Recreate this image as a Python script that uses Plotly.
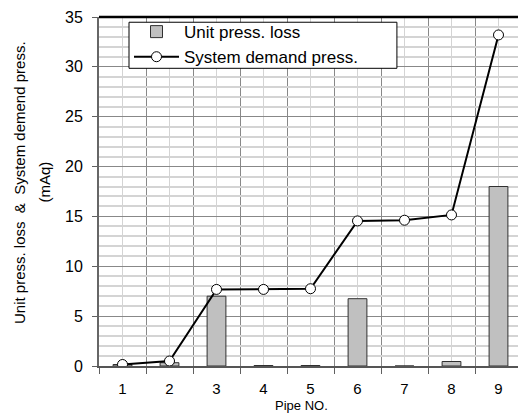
import plotly.graph_objects as go

pipes = [1, 2, 3, 4, 5, 6, 7, 8, 9]
pipe_labels = ["1", "2", "3", "4", "5", "6", "7", "8", "9"]
unit_loss = [0.15, 0.33, 7.0, 0.05, 0.05, 6.75, 0.0, 0.45, 18.0]
system_demand = [0.15, 0.5, 7.68, 7.68, 7.75, 14.55, 14.62, 15.15, 33.2]

FONT = "Arial, Liberation Sans, sans-serif"

fig = go.Figure()
fig.add_trace(go.Bar(
    x=pipes, y=unit_loss, name="Unit press. loss", width=0.4,
    marker=dict(color="#c0c0c0", line=dict(color="#303030", width=1)),
))
fig.add_trace(go.Scatter(
    x=pipes, y=system_demand, name="System demand press.", mode="lines+markers",
    line=dict(color="black", width=2),
    marker=dict(symbol="circle", size=10, color="white", line=dict(color="black", width=1)),
))

fig.update_layout(
    width=518, height=414,
    margin=dict(l=99, r=0, t=17, b=48),
    paper_bgcolor="white", plot_bgcolor="white",
    font=dict(family=FONT, size=14, color="black"),
    showlegend=True,
    legend=dict(
        x=0.0716, y=1.0084, xanchor="left", yanchor="top",
        bgcolor="rgba(0,0,0,0)", borderwidth=0,
        font=dict(family=FONT, size=17, color="black"),
        tracegroupgap=0, itemwidth=45,
    ),
    bargap=0.6,
)

fig.update_xaxes(
    range=[0.5, 9.415],
    tickmode="array", tickvals=pipes, ticktext=pipe_labels,
    ticks="", ticklabelstandoff=8,
    showgrid=True, gridcolor="#d4d4d4", gridwidth=1,
    minor=dict(tickvals=[0.5 + i for i in range(10)], ticks="outside", ticklen=6,
               tickcolor="#606060", showgrid=True, gridcolor="#888888", gridwidth=1),
    showline=True, linecolor="#555555", linewidth=2,
    zeroline=False, tickfont=dict(size=15, color="black"),
)
fig.update_yaxes(
    range=[0, 35], tickmode="linear", tick0=0, dtick=5,
    ticks="outside", ticklen=5, tickcolor="#606060", ticklabelstandoff=6,
    showgrid=True, gridcolor="#888888", gridwidth=1,
    minor=dict(dtick=1, showgrid=True, gridcolor="#d4d4d4", gridwidth=2, ticks=""),
    showline=True, linecolor="#666666", linewidth=2,
    zeroline=False, tickfont=dict(size=16, color="black"),
)

# top border of the plot area
fig.add_shape(type="line", xref="paper", yref="paper", x0=0, x1=1, y0=1, y1=1,
              line=dict(color="black", width=2.5))
# legend frame
fig.add_shape(type="rect", xref="paper", yref="paper", x0=0.0716, x1=0.711, y0=0.853, y1=0.985,
              line=dict(color="black", width=1), fillcolor="white", layer="above")

fig.add_annotation(text="Unit press. loss  &  System demend press.", xref="paper", yref="paper",
                   x=-0.191, y=0.527, textangle=-90, showarrow=False,
                   xanchor="center", yanchor="middle", font=dict(size=15, family=FONT))
fig.add_annotation(text="(mAq)", xref="paper", yref="paper",
                   x=-0.13, y=0.527, textangle=-90, showarrow=False,
                   xanchor="center", yanchor="middle", font=dict(size=15, family=FONT))
fig.add_annotation(text="Pipe NO.", xref="paper", yref="paper",
                   x=0.483, y=-0.1374, showarrow=False, borderpad=0,
                   xanchor="center", yanchor="bottom", font=dict(size=13, family=FONT))

fig.write_html("out.html", config={"displayModeBar": False},
               post_script="document.body.style.margin='0';")
